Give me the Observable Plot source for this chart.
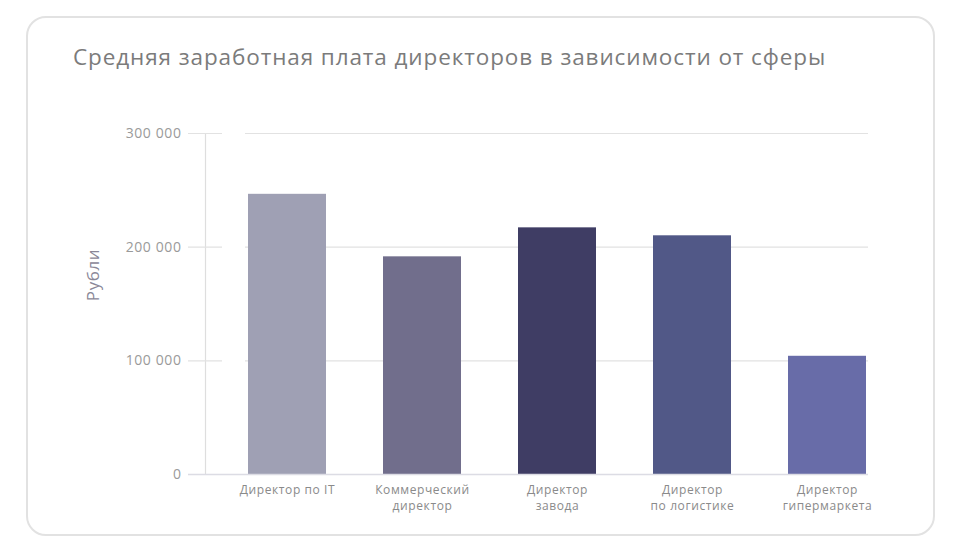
<!DOCTYPE html>
<html>
<head>
<meta charset="utf-8">
<script src="https://cdn.jsdelivr.net/npm/d3@7"></script>
<script src="https://cdn.jsdelivr.net/npm/@observablehq/plot@0.6"></script>
<style>
  html, body { margin: 0; padding: 0; background: #fff; }
  body { width: 961px; height: 550px; position: relative; overflow: hidden; font-family: "Open Sans", sans-serif; }
  .card { position: absolute; left: 26px; top: 16px; width: 905px; height: 516px; border: 2px solid #e2e2e2; border-radius: 20px; box-sizing: content-box; }
  .title { position: absolute; left: 73px; top: 41px; font-size: 22.5px; color: #7b7b7b; white-space: nowrap; letter-spacing: 0.9px; }
  #chart { position: absolute; left: 0; top: 0; }
  #chart svg text { letter-spacing: 0.6px; }
</style>
</head>
<body>
<div class="card"></div>
<div class="title">Средняя заработная плата директоров в зависимости от сферы</div>
<div id="chart"></div>
<script>
const categories = ["Директор по IT", "Коммерческий директор", "Директор завода", "Директор по логистике", "Директор гипермаркета"];
const tickLabels = ["Директор по IT", "Коммерческий\nдиректор", "Директор\nзавода", "Директор\nпо логистике", "Директор\nгипермаркета"];
const salaries = [246500, 191500, 217000, 210000, 104000];
const colors = ["#9fa0b4", "#716e8c", "#3f3d64", "#515887", "#686ca8"];
const yTicks = [0, 100000, 200000, 300000];
const yLabel = "Рубли";

const data = categories.map((c, i) => ({category: c, value: salaries[i], color: colors[i]}));
const fmt = v => d3.format(",")(v).replace(/,/g, " ");

const chart = Plot.plot({
  width: 961,
  height: 550,
  marginLeft: 205,
  marginRight: 93,
  marginTop: 133,
  marginBottom: 76,
  style: {fontFamily: "Open Sans, sans-serif", background: "transparent", overflow: "visible"},
  x: {domain: categories, paddingInner: 0.424, paddingOuter: 0, insetLeft: 42, insetRight: 1, axis: null},
  y: {domain: [0, 300000], axis: null},
  marks: [
    Plot.frame({anchor: "left", stroke: "#dedede", strokeWidth: 1.2}),
    Plot.gridY(yTicks, {stroke: "#e2e2e2", strokeOpacity: 1, strokeWidth: 1.2, insetLeft: 40}),
    Plot.gridY(yTicks, {stroke: "#e2e2e2", strokeOpacity: 1, strokeWidth: 1.2, insetLeft: -17, insetRight: 646}),
    Plot.barY(data, {x: "category", y: "value", fill: "color"}),
    Plot.ruleY([0], {stroke: "#dcdce4", strokeWidth: 1.5, insetLeft: -17}),
    Plot.axisY(yTicks, {tickSize: 0, tickPadding: 24, tickFormat: fmt, fontSize: 14, fill: "#9a9a9a", color: "#9a9a9a", label: null}),
    Plot.axisX({tickSize: 0, tickPadding: 8, tickFormat: (d) => tickLabels[categories.indexOf(d)], fontSize: 12, fill: "#8a8a8a", color: "#8a8a8a", label: null, lineHeight: 1.33}),
    Plot.text([yLabel], {frameAnchor: "left", textAnchor: "middle", rotate: -90, dx: -112, dy: -29, fontSize: 17, fill: "#8a8797", style: "letter-spacing:1.5px"})
  ]
});
document.getElementById("chart").appendChild(chart);
</script>
</body>
</html>
